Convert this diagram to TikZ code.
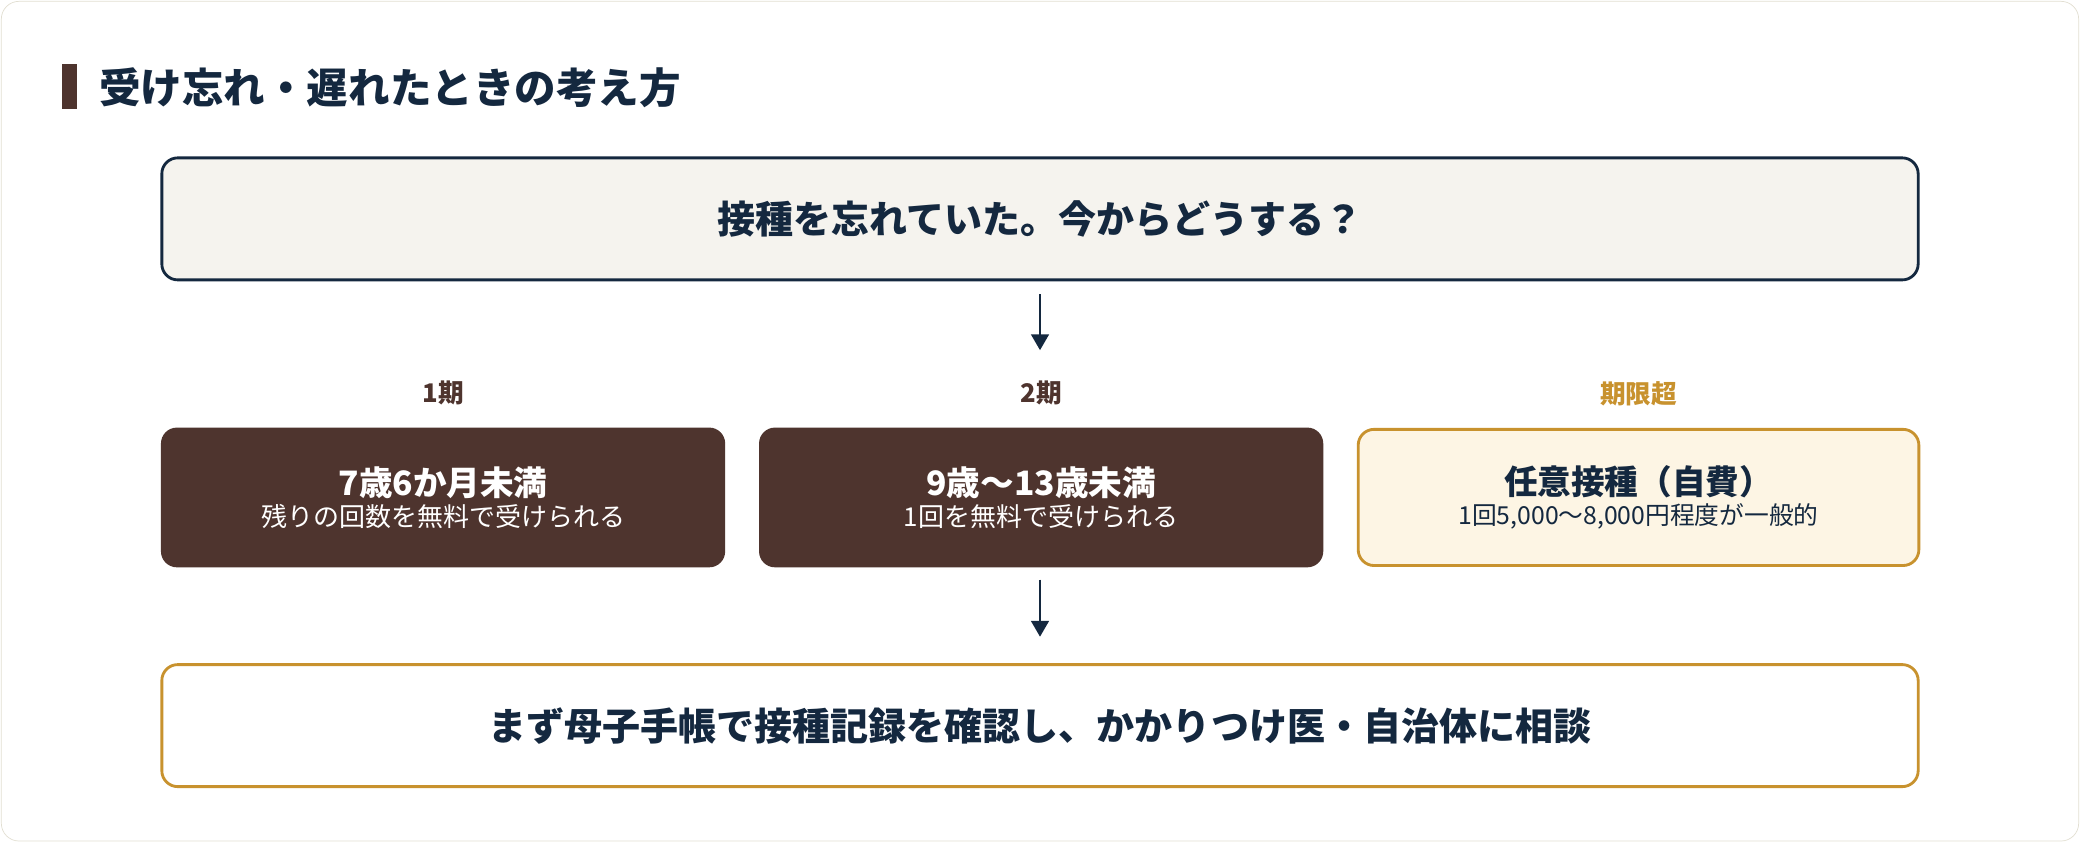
\documentclass[tikz,border=0pt]{standalone}
\usepackage{fontspec}
\setmainfont{Noto Sans CJK JP}
\usetikzlibrary{positioning, arrows.meta}
\definecolor{navy}{HTML}{14283F}
\definecolor{brown}{HTML}{4E342E}
\definecolor{gold}{HTML}{C8922E}
\definecolor{paper}{HTML}{F5F3EE}
\definecolor{cream}{HTML}{FDF5E4}
\definecolor{edge}{HTML}{E2DFD2}
\tikzstyle{wide} = [draw=navy, line width=1.6pt, rounded corners=9pt,
        minimum width=993pt, minimum height=69pt, text=navy,
        font=\fontsize{21.5}{26}\selectfont\bfseries]
\tikzstyle{stage} = [fill=brown, rounded corners=9pt, minimum width=319pt,
        minimum height=79pt, text=white, align=center]
\tikzset{tag/.style={font=\fontsize{14.5}{17}\selectfont\bfseries, text=brown},
    down/.style={-{Triangle[length=9pt,width=10pt]}, line width=1.5pt, draw=navy}}

\begin{document}
\begin{tikzpicture}[x=0.75pt, y=-0.75pt]
    \useasboundingbox (0,0) rectangle (1568,635);
    \draw[edge, fill=white, rounded corners=10pt] (1,1) rectangle (1567,634);

    % title
    \fill[brown] (47,48) rectangle (58,82);
    \node[anchor=west, text=navy, font=\fontsize{23.5}{28}\selectfont\bfseries] (title) at (70,66)
        {受け忘れ・遅れたときの考え方};

    \node [wide, fill=paper] (ask) at (784,165) {接種を忘れていた。今からどうする？};

    \node [stage] (p1) at (334,375) {{\fontsize{19}{22}\selectfont\bfseries 7歳6か月未満}\\[2pt]
        {\fontsize{14.7}{17}\selectfont 残りの回数を無料で受けられる}};
    \node [stage, right=18.75pt of p1] (p2) {{\fontsize{19}{22}\selectfont\bfseries 9歳〜13歳未満}\\[2pt]
        {\fontsize{14.7}{17}\selectfont 1回を無料で受けられる}};
    \node [stage, right=18.75pt of p2, fill=cream, draw=gold, line width=1.6pt, text=navy,
        minimum width=317pt, minimum height=77pt] (p3)
        {{\fontsize{19}{22}\selectfont\bfseries 任意接種（自費）}\\[2pt]
        {\fontsize{14}{17}\selectfont 1回5,000〜8,000円程度が一般的}};

    \node [tag, above=9pt of p1] (t1) {1期};
    \node [tag, above=9pt of p2] (t2) {2期};
    \node [tag, above=9pt of p3, text=gold] (t3) {期限超};

    \node [wide, fill=white, draw=gold] (end) at (784,547)
        {まず母子手帳で接種記録を確認し、かかりつけ医・自治体に相談};

    \coordinate (a1) at (784,222);
    \coordinate (a2) at (784,264);
    \coordinate (b1) at (784,437);
    \coordinate (b2) at (784,480);
    \draw[down] (a1) -- (a2);
    \draw[down] (b1) -- (b2);
\end{tikzpicture}
\end{document}
